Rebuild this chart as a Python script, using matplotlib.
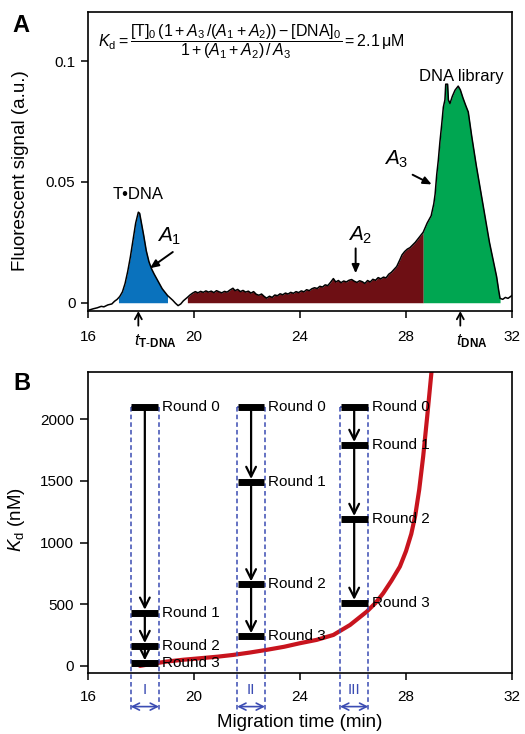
import numpy as np
import matplotlib
matplotlib.use("Agg")
import matplotlib.pyplot as plt

plt.rcParams['font.family'] = ['Liberation Sans', 'DejaVu Sans']
plt.rcParams['mathtext.fontset'] = 'custom'
plt.rcParams['mathtext.rm'] = 'Liberation Sans'
plt.rcParams['mathtext.it'] = 'Liberation Sans:italic'
plt.rcParams['mathtext.bf'] = 'Liberation Sans:bold'

# ---- panel A: electropherogram (migration time, signal)
trace_t = [16.05, 16.2, 16.35, 16.5, 16.6, 16.75, 16.9, 17.0, 17.1, 17.15,
           17.2, 17.3, 17.4, 17.5, 17.6, 17.7, 17.8, 17.9, 17.95, 18.0,
           18.1, 18.2, 18.3, 18.4, 18.5, 18.6, 18.7, 18.8, 18.9, 19.0,
           19.1, 19.2, 19.3, 19.4, 19.5, 19.6, 19.75, 19.85, 19.95, 20.05,
           20.15, 20.25, 20.35, 20.45, 20.55, 20.65, 20.75, 20.85, 20.95, 21.05,
           21.15, 21.25, 21.35, 21.47, 21.55, 21.65, 21.75, 21.85, 21.95, 22.05,
           22.15, 22.25, 22.35, 22.45, 22.55, 22.65, 22.74, 22.85, 22.95, 23.05,
           23.15, 23.25, 23.35, 23.45, 23.55, 23.65, 23.75, 23.85, 23.95, 24.05,
           24.15, 24.25, 24.35, 24.45, 24.55, 24.65, 24.75, 24.85, 24.95, 25.05,
           25.15, 25.26, 25.35, 25.45, 25.55, 25.65, 25.75, 25.85, 25.95, 26.05,
           26.15, 26.25, 26.35, 26.45, 26.55, 26.65, 26.75, 26.85, 26.95, 27.05,
           27.15, 27.25, 27.35, 27.45, 27.55, 27.65, 27.77, 27.85, 27.95, 28.05,
           28.15, 28.26, 28.35, 28.45, 28.55, 28.65, 28.8, 28.95, 29.05, 29.1,
           29.16, 29.22, 29.28, 29.35, 29.41, 29.47, 29.5, 29.57, 29.6, 29.66,
           29.75, 29.85, 29.97, 30.05, 30.15, 30.25, 30.35, 30.48, 30.55, 30.65,
           30.79, 30.9, 31.04, 31.15, 31.3, 31.42, 31.5, 31.55, 31.65, 31.75,
           31.85, 32.0]
trace_s = [-0.0030, -0.0025, -0.0021, -0.0015, -0.0017, -0.0009, -0.0005, 0.0006, 0.0014, 0.0020,
           0.0026, 0.0045, 0.0080, 0.0130, 0.0190, 0.0260, 0.0330, 0.0375, 0.0370, 0.0340,
           0.0280, 0.0215, 0.0170, 0.0140, 0.0118, 0.0098, 0.0078, 0.0058, 0.0044, 0.0030,
           0.0020, 0.0010, -0.0002, -0.0012, -0.0005, 0.0008, 0.0022, 0.0032, 0.0040, 0.0046,
           0.0041, 0.0047, 0.0043, 0.0049, 0.0044, 0.0048, 0.0042, 0.0050, 0.0045, 0.0041,
           0.0047, 0.0044, 0.0052, 0.0060, 0.0050, 0.0055, 0.0046, 0.0051, 0.0044, 0.0048,
           0.0040, 0.0046, 0.0035, 0.0031, 0.0036, 0.0026, 0.0019, 0.0027, 0.0022, 0.0032,
           0.0029, 0.0037, 0.0033, 0.0040, 0.0036, 0.0043, 0.0039, 0.0046, 0.0042, 0.0049,
           0.0045, 0.0054, 0.0050, 0.0058, 0.0062, 0.0059, 0.0068, 0.0065, 0.0074, 0.0071,
           0.0084, 0.0100, 0.0086, 0.0092, 0.0083, 0.0090, 0.0086, 0.0093, 0.0096, 0.0089,
           0.0084, 0.0091, 0.0087, 0.0080, 0.0092, 0.0086, 0.0097, 0.0093, 0.0104, 0.0099,
           0.0106, 0.0103, 0.0118, 0.0126, 0.0138, 0.0150, 0.0178, 0.0198, 0.0212, 0.0222,
           0.0228, 0.0240, 0.0250, 0.0264, 0.0278, 0.0292, 0.0330, 0.0360, 0.0410, 0.0450,
           0.0530, 0.0590, 0.0665, 0.0740, 0.0810, 0.0840, 0.0905, 0.0905, 0.0840, 0.0825,
           0.0855, 0.0880, 0.0897, 0.0882, 0.0848, 0.0818, 0.0790, 0.0690, 0.0640, 0.0570,
           0.0480, 0.0410, 0.0317, 0.0250, 0.0170, 0.0108, 0.0050, 0.0018, 0.0014, 0.0022,
           0.0018, 0.0030]

# peak windows: T-DNA complex, dissociated DNA, free DNA library
blue_win = (17.15, 19.0)
maroon_win = (19.75, 28.65)
green_win = (28.65, 31.55)

# ---- panel B: Kd vs migration time curve
kd_t = [17.96, 18.5, 18.97, 19.6, 20.23, 20.9, 21.48, 22.1, 22.74, 23.4,
        24.0, 24.63, 25.26, 25.89, 26.52, 26.85, 27.14, 27.45, 27.77, 28.0,
        28.2, 28.35, 28.5, 28.65, 28.8, 28.97]
kd_v = [0, 20, 35, 50, 62, 75, 89, 108, 130, 155,
        184, 211, 251, 332, 440, 510, 589, 690, 805, 930,
        1070, 1220, 1430, 1700, 2020, 2400]

windows = ['I', 'II', 'III']
win_left = [17.61, 21.63, 25.51]
win_right = [18.68, 22.68, 26.58]
rounds = ['Round 0', 'Round 1', 'Round 2', 'Round 3']
round_kd = [[2100, 430, 160, 20],
            [2100, 1490, 660, 240],
            [2100, 1790, 1190, 510]]

blue_fill = '#0a72bd'
maroon_fill = '#6e0f14'
green_fill = '#00a651'
win_color = '#3b4cb3'
red_curve = '#c8141e'

fig = plt.figure(figsize=(5.25, 7.34), dpi=100)
axA = fig.add_axes([0.1676, 0.5767, 0.8076, 0.407])
axB = fig.add_axes([0.1676, 0.0827, 0.8076, 0.4109])

t = np.array(trace_t)
s = np.array(trace_s)
for (a, b), c in zip([blue_win, maroon_win, green_win], [blue_fill, maroon_fill, green_fill]):
    m = (t >= a) & (t <= b)
    axA.fill_between(t[m], np.clip(s[m], 0, None), 0, color=c, lw=0)
axA.plot(t, s, color='black', lw=1.1)

axA.set_xlim(16, 32)
axA.set_ylim(-0.0033, 0.1204)
axA.set_xticks([16, 20, 24, 28, 32])
axA.set_yticks([0, 0.05, 0.1])
axA.set_yticklabels(['0', '0.05', '0.1'])
axA.set_ylabel('Fluorescent signal (a.u.)', fontsize=13.5)
axA.yaxis.set_label_coords(-0.138, 0.47)
axA.tick_params(axis='x', labelsize=11, length=5, width=1.1, pad=9)
axA.tick_params(axis='y', labelsize=11, length=5, width=1.1, pad=4)

axA.text(16.38, 0.108,
         r'$K_\mathrm{d}=\dfrac{[\mathrm{T}]_0\,(1+A_3\,/(A_1+A_2))-[\mathrm{DNA}]_0}'
         r'{1+(A_1+A_2)\,/\,A_3}=2.1\,\mathrm{\mu M}$',
         fontsize=11.5, ha='left', va='center')

axA.text(17.9, 0.045, 'T\u2022DNA', fontsize=12, ha='center', va='center')
axA.text(30.07, 0.0936, 'DNA library', fontsize=12, ha='center', va='center')

arrow_kw = dict(arrowstyle='-|>,head_length=0.5,head_width=0.22', lw=1.4, color='black',
                shrinkA=0, shrinkB=0)
axA.text(19.05, 0.0275, r'$A_1$', fontsize=15, ha='center', va='center')
axA.annotate('', xy=(18.34, 0.0143), xytext=(19.2, 0.021), arrowprops=arrow_kw)
axA.text(26.26, 0.028, r'$A_2$', fontsize=15, ha='center', va='center')
axA.annotate('', xy=(26.1, 0.0122), xytext=(26.1, 0.0225), arrowprops=arrow_kw)
axA.text(27.65, 0.0595, r'$A_3$', fontsize=15, ha='center', va='center')
axA.annotate('', xy=(28.97, 0.049), xytext=(28.25, 0.053), arrowprops=arrow_kw)

up_kw = dict(arrowstyle='->,head_length=0.45,head_width=0.25', lw=1.3, color='black',
             shrinkA=0, shrinkB=0)
for xm in [17.9, 30.05]:
    axA.annotate('', xy=(xm, -0.0035), xytext=(xm, -0.0095), arrowprops=up_kw,
                 annotation_clip=False)
axA.text(17.75, -0.0122, r'$t_{\mathbf{T\text{-}DNA}}$', fontsize=12, ha='left', va='top')
axA.text(29.9, -0.0122, r'$t_{\mathbf{DNA}}$', fontsize=12, ha='left', va='top')

# ---- panel B
axB.plot(kd_t, kd_v, color=red_curve, lw=3, solid_capstyle='round', zorder=2)

for name, l, r, kds in zip(windows, win_left, win_right, round_kd):
    xc = (l + r) / 2
    for xv in [l, r]:
        axB.plot([xv, xv], [kds[0], -360], color=win_color, lw=1.1, ls=(0, (3, 2)),
                 clip_on=False, zorder=3)
    axB.plot([l, r], [kds[0], kds[0]], color=win_color, lw=1.1, ls=(0, (3, 2)), zorder=3)
    axB.annotate('', xy=(r, -330), xytext=(l, -330),
                 arrowprops=dict(arrowstyle='<->,head_length=0.5,head_width=0.25',
                                 color=win_color, lw=1.2, shrinkA=0, shrinkB=0),
                 annotation_clip=False)
    axB.text(xc, -195, name, color=win_color, fontsize=11, ha='center', va='center')
    for k0, k1 in zip(kds[:-1], kds[1:]):
        axB.annotate('', xy=(xc, k1 + 25), xytext=(xc, k0),
                     arrowprops=dict(arrowstyle='->,head_length=0.7,head_width=0.35',
                                     color='black', lw=1.6, shrinkA=0, shrinkB=0),
                     zorder=4)
    for rn, kv in zip(rounds, kds):
        axB.plot([l + 0.03, r - 0.03], [kv, kv], color='black', lw=5, solid_capstyle='butt',
                 zorder=5)
        axB.text(r + 0.12, kv, rn, fontsize=11, ha='left', va='center', zorder=6)

axB.set_xlim(16, 32)
axB.set_ylim(-60, 2385)
axB.set_xticks([16, 20, 24, 28, 32])
axB.set_yticks([0, 500, 1000, 1500, 2000])
axB.set_ylabel(r'$K_\mathrm{d}$ (nM)', fontsize=13.5)
axB.yaxis.set_label_coords(-0.143, 0.51)
axB.set_xlabel('Migration time (min)', fontsize=13.5)
axB.xaxis.set_label_coords(0.5, -0.135)
axB.tick_params(axis='x', labelsize=11, length=5, width=1.1, pad=7)
axB.tick_params(axis='y', labelsize=11, length=6, width=1.1, pad=4)

for ax in [axA, axB]:
    for sp in ax.spines.values():
        sp.set_linewidth(1.2)

fig.text(0.04, 1 - 26 / 734, 'A', fontsize=17, fontweight='bold', ha='center', va='center')
fig.text(0.042, 1 - 383 / 734, 'B', fontsize=17, fontweight='bold', ha='center', va='center')

fig.savefig('out.png', dpi=100)
